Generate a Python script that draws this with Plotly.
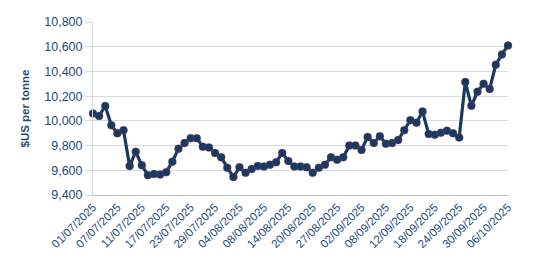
import pandas as pd
import plotly.graph_objects as go

# Trading days 01/07/2025 - 06/10/2025 (LME, UK bank holiday 25/08 closed)
dates = [d for d in pd.bdate_range("2025-07-01", "2025-10-06") if d.strftime("%Y-%m-%d") != "2025-08-25"]
categories = [d.strftime("%d/%m/%Y") for d in dates]

prices = [
    10060, 10040, 10120, 9965, 9900, 9925, 9635, 9750, 9640, 9560,
    9570, 9565, 9585, 9670, 9775, 9820, 9860, 9860, 9790, 9785,
    9740, 9705, 9620, 9545, 9625, 9580, 9610, 9635, 9630, 9645,
    9665, 9740, 9675, 9630, 9630, 9625, 9580, 9620, 9645, 9705,
    9685, 9705, 9800, 9800, 9765, 9870, 9820, 9875, 9815, 9820,
    9845, 9925, 10005, 9985, 10075, 9894, 9888, 9904, 9920, 9899,
    9865, 10315, 10122, 10236, 10300, 10258, 10455, 10538, 10610,
]

tick_labels = categories[::4]
y_ticks = [9400, 9600, 9800, 10000, 10200, 10400, 10600, 10800]

navy = "#173a63"
text_col = "#1d4a7c"
grid_col = "#d3dbe6"

fig = go.Figure()
fig.add_trace(go.Scatter(
    x=categories, y=prices, mode="lines+markers",
    line=dict(color=navy, width=3.2),
    marker=dict(color=navy, size=8, line=dict(color="rgba(200,60,70,0.5)", width=0.6)),
    cliponaxis=False,
    showlegend=False,
))

fig.update_layout(
    width=536, height=280,
    margin=dict(l=93, r=28, t=22, b=85),
    paper_bgcolor="white", plot_bgcolor="white",
    font=dict(family="Liberation Sans, Arial, sans-serif", color=text_col),
)
fig.update_xaxes(
    type="category", range=[0, len(categories) - 1],
    tickmode="array", tickvals=tick_labels, ticktext=tick_labels,
    tickangle=-45, tickfont=dict(size=11.5, color=text_col),
    showgrid=False, showline=True, linecolor="#b9bdc9", linewidth=1,
    ticks="", zeroline=False,
)
fig.update_yaxes(
    range=[9400, 10800], tickvals=y_ticks, tickformat=",d",
    tickfont=dict(size=12.5, color=text_col),
    showgrid=True, gridcolor=grid_col, gridwidth=1,
    ticks="outside", ticklen=7, tickcolor=grid_col,
    showline=True, linecolor=grid_col, zeroline=False,
    title=dict(text="<b>$US per tonne</b>", font=dict(size=11.5, color=text_col), standoff=12),
)

fig.write_html("out.html")
